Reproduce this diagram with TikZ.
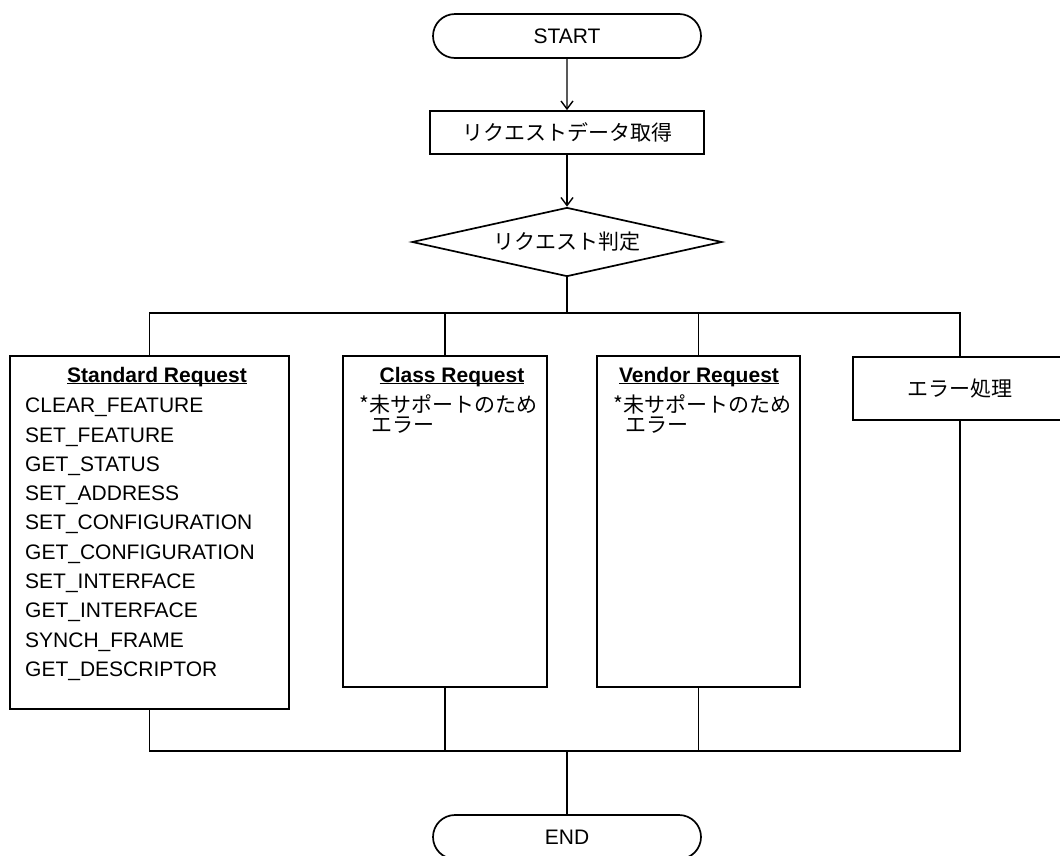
\documentclass[tikz,border=0pt]{standalone}
\usepackage{fontspec}
\setmainfont{Liberation Sans}
\newfontfamily\jpfont{Noto Sans CJK JP}
\usetikzlibrary{shapes.geometric,shapes.misc,arrows.meta}
\newcommand\headline[1]{\setbox0\hbox{#1}\rlap{\rule[-2.4pt]{\wd0}{1.8pt}}\box0}

\tikzset{
  flowline/.style={line width=1.8pt},
  arrowline/.style={line width=1.4pt,-{Straight Barb[length=8pt,width=12pt]}},
  termbox/.style={rounded rectangle,draw,line width=1.7pt,minimum width=268pt,minimum height=44pt,inner sep=0pt,font=\fontsize{21}{25}\selectfont},
  procbox/.style={rectangle,draw,line width=1.8pt,inner sep=0pt},
  listtext/.style={anchor=base west,inner sep=0pt,font=\fontsize{21}{25}\selectfont},
  headtext/.style={anchor=base,inner sep=0pt,font=\fontsize{21}{25}\selectfont\bfseries},
  jptext/.style={anchor=base west,inner sep=0pt,font=\fontsize{21}{25}\selectfont\jpfont},
}

\begin{document}
\begin{tikzpicture}[x=1pt,y=-1pt]
\useasboundingbox (0,0) rectangle (1060,855);
\clip (0,0) rectangle (1060,855);
% main column
\node[termbox] (start) at (567,36) {START};
\node[procbox,minimum width=274pt,minimum height=43pt,font=\fontsize{21}{25}\selectfont\jpfont] (fetch) at (567,132.5) {リクエストデータ取得};
\node[diamond,draw,line width=1.7pt,aspect=4.5,minimum width=310pt,minimum height=69pt,inner sep=0pt,font=\fontsize{21}{25}\selectfont\jpfont] (judge) at (567,242) {リクエスト判定};
\coordinate (bustop) at (567,313);
\coordinate (busbot) at (567,751);
\node[termbox] (finish) at (567,837) {END};

% request boxes
\node[procbox,minimum width=279pt,minimum height=353pt] (std) at (149.5,532.5) {};
\node[procbox,minimum width=204pt,minimum height=331pt] (cls) at (445,521.5) {};
\node[procbox,minimum width=203pt,minimum height=331pt] (vnd) at (698.5,521.5) {};
\node[procbox,minimum width=214pt,minimum height=63pt,font=\fontsize{21}{25}\selectfont\jpfont] (err) at (960,388.5) {エラー処理};

% box texts
\node[headtext] (stdhead) at (157,382) {\headline{Standard Request}};
\foreach \req [count=\i from 0] in {CLEAR\_FEATURE,SET\_FEATURE,GET\_STATUS,SET\_ADDRESS,SET\_CONFIGURATION,GET\_CONFIGURATION,SET\_INTERFACE,GET\_INTERFACE,SYNCH\_FRAME,GET\_DESCRIPTOR}
  \node[listtext,name=req\i] at (25,{412.7+29.3*\i}) {\req};
\node[headtext] (clshead) at (452,382) {\headline{Class Request}};
\node[jptext] (clsnote) at (359,412) {*未サポートのため};
\node[jptext] (clsnote2) at (371,432) {エラー};
\node[headtext] (vndhead) at (699,382) {\headline{Vendor Request}};
\node[jptext] (vndnote) at (613,412) {*未サポートのため};
\node[jptext] (vndnote2) at (625,432) {エラー};

% connectors
\draw[arrowline] (start) -- (fetch);
\draw[arrowline] (fetch) -- (judge);
\draw[flowline] (judge.south) -- (bustop);
\draw[flowline] (std.north) |- (bustop) -| (err.north);
\draw[flowline] (cls.north) -- (cls.north |- bustop);
\draw[flowline] (vnd.north) -- (vnd.north |- bustop);
\draw[flowline] (std.south) |- (busbot) -| (err.south);
\draw[flowline] (cls.south) -- (cls.south |- busbot);
\draw[flowline] (vnd.south) -- (vnd.south |- busbot);
\draw[flowline] (busbot) -- (finish.north);
\end{tikzpicture}
\end{document}
